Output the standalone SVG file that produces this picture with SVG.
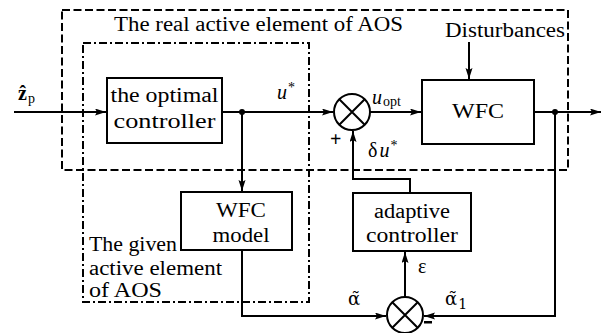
<svg xmlns="http://www.w3.org/2000/svg" width="606" height="333" viewBox="0 0 606 333">
<style>
text{font-family:"Times New Roman","Liberation Serif","DejaVu Serif",serif;font-size:20px;fill:#000}
.box{fill:#fff;stroke:#000;stroke-width:2}
.ln{fill:none;stroke:#000;stroke-width:2}
.outer{fill:none;stroke:#000;stroke-width:2;stroke-dasharray:8 3.5}
.inner{fill:none;stroke:#000;stroke-width:2;stroke-dasharray:8 3 2 3}
.c{text-anchor:middle}
.it{font-style:italic}
.sub{font-size:14px;font-style:normal}
.al{font-family:"DejaVu Serif","Noto Serif",serif;font-size:18px}
</style>
<defs>
<marker id="ar" markerUnits="userSpaceOnUse" markerWidth="12" markerHeight="8" refX="11" refY="3.5" orient="auto">
<path d="M0,0 L11,3.5 L0,7 L2,3.5 z" fill="#000"/>
</marker>
</defs>
<g id="frames">
<rect class="outer" x="62" y="10" width="506" height="160"/>
<rect class="inner" x="83" y="43" width="226" height="259"/>
<text x="114" y="31" textLength="289" lengthAdjust="spacingAndGlyphs">The real active element of AOS</text>
<text x="89" y="251" textLength="88" lengthAdjust="spacingAndGlyphs">The given</text>
<text x="89" y="275" textLength="133" lengthAdjust="spacingAndGlyphs">active element</text>
<text x="89" y="297" textLength="73" lengthAdjust="spacingAndGlyphs">of AOS</text>
</g>
<g id="connectors">
<path class="ln" d="M14,112 H106" marker-end="url(#ar)"/>
<path class="ln" d="M222,112 H333" marker-end="url(#ar)"/>
<path class="ln" d="M242,112 V191" marker-end="url(#ar)"/>
<path class="ln" d="M370,112 H421" marker-end="url(#ar)"/>
<path class="ln" d="M469,42 V79" marker-end="url(#ar)"/>
<path class="ln" d="M534,112 H601" marker-end="url(#ar)"/>
<path class="ln" d="M555,112 V316 H424" marker-end="url(#ar)"/>
<path class="ln" d="M242,250 V316 H386" marker-end="url(#ar)"/>
<path class="ln" d="M405,297 V252" marker-end="url(#ar)"/>
<path class="ln" d="M410,193 V179 H353 V131" marker-end="url(#ar)"/>
<circle cx="242" cy="112" r="3" fill="#000"/>
<circle cx="555" cy="112" r="3" fill="#000"/>
</g>
<g id="optimal-controller">
<rect class="box" x="107" y="78" width="115" height="65"/>
<text class="c" x="164.5" y="102" textLength="108" lengthAdjust="spacingAndGlyphs">the optimal</text>
<text class="c" x="164.5" y="128" textLength="102" lengthAdjust="spacingAndGlyphs">controller</text>
</g>
<g id="sum1">
<circle class="ln" cx="352" cy="112" r="18"/>
<path class="ln" d="M339.3,99.3 L364.7,124.7 M364.7,99.3 L339.3,124.7"/>
</g>
<g id="wfc">
<rect class="box" x="422" y="80" width="112" height="64"/>
<text class="c" x="478" y="118" textLength="52" lengthAdjust="spacingAndGlyphs">WFC</text>
</g>
<g id="wfc-model">
<rect class="box" x="181" y="192" width="111" height="58"/>
<text class="c" x="241" y="217" textLength="50" lengthAdjust="spacingAndGlyphs">WFC</text>
<text class="c" x="241" y="242" textLength="57" lengthAdjust="spacingAndGlyphs">model</text>
</g>
<g id="adaptive-controller">
<rect class="box" x="353" y="193" width="118" height="58"/>
<text class="c" x="412" y="218" textLength="76" lengthAdjust="spacingAndGlyphs">adaptive</text>
<text class="c" x="412" y="242" textLength="92" lengthAdjust="spacingAndGlyphs">controller</text>
</g>
<g id="sum2">
<circle class="ln" cx="405" cy="315" r="18"/>
<path class="ln" d="M392.3,302.3 L417.7,327.7 M417.7,302.3 L392.3,327.7"/>
</g>
<g id="labels">
<text x="18" y="100"><tspan font-weight="bold">ẑ</tspan><tspan class="sub" dx="1" dy="3">p</tspan></text>
<text x="445" y="37" textLength="120" lengthAdjust="spacingAndGlyphs">Disturbances</text>
<text x="277" y="99" class="it">u<tspan class="sub" dx="1" dy="-7">*</tspan></text>
<text x="372" y="104" class="it">u<tspan class="sub" dx="1" dy="2">opt</tspan></text>
<text x="368" y="157">δ<tspan class="it" dx="2">u</tspan><tspan class="sub" dx="1" dy="-7">*</tspan></text>
<text x="330" y="146" font-weight="bold">+</text>
<text x="418" y="273">ε</text>
<text x="348" y="305" class="al">α̃</text>
<text x="445" y="305" class="al">α̃<tspan class="sub" dx="1" dy="4">1</tspan></text>
<rect x="424" y="321" width="8" height="2.5" fill="#000"/>
</g>
</svg>
